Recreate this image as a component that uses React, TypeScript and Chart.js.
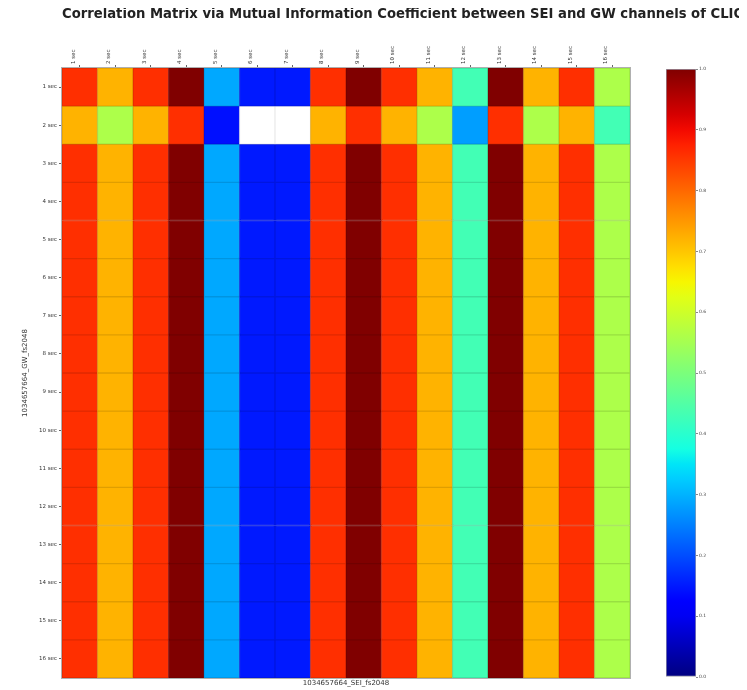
import React, { useEffect, useRef } from "react";
import { Chart, registerables } from "chart.js";

Chart.register(...registerables);

const chartTitle =
  "Correlation Matrix via Mutual Information Coefficient between SEI and GW channels of CLIO";
const xAxisTitle = "1034657664_SEI_fs2048";
const yAxisTitle = "1034657664_GW_fs2048";

const seiChannels = [
  "1 sec", "2 sec", "3 sec", "4 sec", "5 sec", "6 sec", "7 sec", "8 sec",
  "9 sec", "10 sec", "11 sec", "12 sec", "13 sec", "14 sec", "15 sec", "16 sec",
];
const gwChannels = [
  "1 sec", "2 sec", "3 sec", "4 sec", "5 sec", "6 sec", "7 sec", "8 sec",
  "9 sec", "10 sec", "11 sec", "12 sec", "13 sec", "14 sec", "15 sec", "16 sec",
];

// MIC values, one array per GW channel (row), one entry per SEI channel (column). null = NaN (white)
const gw01 = [0.86, 0.72, 0.86, 1.0, 0.29, 0.15, 0.15, 0.86, 1.0, 0.86, 0.72, 0.43, 1.0, 0.72, 0.86, 0.56];
const gw02 = [0.72, 0.56, 0.72, 0.86, 0.14, null, null, 0.72, 0.86, 0.72, 0.56, 0.28, 0.86, 0.56, 0.72, 0.43];
const gw03 = [0.86, 0.72, 0.86, 1.0, 0.29, 0.15, 0.15, 0.86, 1.0, 0.86, 0.72, 0.43, 1.0, 0.72, 0.86, 0.56];
const gw04 = [0.86, 0.72, 0.86, 1.0, 0.29, 0.15, 0.15, 0.86, 1.0, 0.86, 0.72, 0.43, 1.0, 0.72, 0.86, 0.56];
const gw05 = [0.86, 0.72, 0.86, 1.0, 0.29, 0.15, 0.15, 0.86, 1.0, 0.86, 0.72, 0.43, 1.0, 0.72, 0.86, 0.56];
const gw06 = [0.86, 0.72, 0.86, 1.0, 0.29, 0.15, 0.15, 0.86, 1.0, 0.86, 0.72, 0.43, 1.0, 0.72, 0.86, 0.56];
const gw07 = [0.86, 0.72, 0.86, 1.0, 0.29, 0.15, 0.15, 0.86, 1.0, 0.86, 0.72, 0.43, 1.0, 0.72, 0.86, 0.56];
const gw08 = [0.86, 0.72, 0.86, 1.0, 0.29, 0.15, 0.15, 0.86, 1.0, 0.86, 0.72, 0.43, 1.0, 0.72, 0.86, 0.56];
const gw09 = [0.86, 0.72, 0.86, 1.0, 0.29, 0.15, 0.15, 0.86, 1.0, 0.86, 0.72, 0.43, 1.0, 0.72, 0.86, 0.56];
const gw10 = [0.86, 0.72, 0.86, 1.0, 0.29, 0.15, 0.15, 0.86, 1.0, 0.86, 0.72, 0.43, 1.0, 0.72, 0.86, 0.56];
const gw11 = [0.86, 0.72, 0.86, 1.0, 0.29, 0.15, 0.15, 0.86, 1.0, 0.86, 0.72, 0.43, 1.0, 0.72, 0.86, 0.56];
const gw12 = [0.86, 0.72, 0.86, 1.0, 0.29, 0.15, 0.15, 0.86, 1.0, 0.86, 0.72, 0.43, 1.0, 0.72, 0.86, 0.56];
const gw13 = [0.86, 0.72, 0.86, 1.0, 0.29, 0.15, 0.15, 0.86, 1.0, 0.86, 0.72, 0.43, 1.0, 0.72, 0.86, 0.56];
const gw14 = [0.86, 0.72, 0.86, 1.0, 0.29, 0.15, 0.15, 0.86, 1.0, 0.86, 0.72, 0.43, 1.0, 0.72, 0.86, 0.56];
const gw15 = [0.86, 0.72, 0.86, 1.0, 0.29, 0.15, 0.15, 0.86, 1.0, 0.86, 0.72, 0.43, 1.0, 0.72, 0.86, 0.56];
const gw16 = [0.86, 0.72, 0.86, 1.0, 0.29, 0.15, 0.15, 0.86, 1.0, 0.86, 0.72, 0.43, 1.0, 0.72, 0.86, 0.56];

const micRows = [gw01, gw02, gw03, gw04, gw05, gw06, gw07, gw08, gw09, gw10, gw11, gw12, gw13, gw14, gw15, gw16];

const colorbarTicks = [0.0, 0.1, 0.2, 0.3, 0.4, 0.5, 0.6, 0.7, 0.8, 0.9, 1.0];

// matplotlib "jet" colormap segment data
const jetRed = [[0, 0], [0.35, 0], [0.66, 1], [0.89, 1], [1, 0.5]];
const jetGreen = [[0, 0], [0.125, 0], [0.375, 1], [0.64, 1], [0.91, 0], [1, 0]];
const jetBlue = [[0, 0.5], [0.11, 1], [0.34, 1], [0.65, 0], [1, 0]];

function interp(pts: number[][], v: number): number {
  if (v <= pts[0][0]) return pts[0][1];
  for (let i = 1; i < pts.length; i++) {
    if (v <= pts[i][0]) {
      const [x0, y0] = pts[i - 1];
      const [x1, y1] = pts[i];
      return y0 + ((v - x0) / (x1 - x0)) * (y1 - y0);
    }
  }
  return pts[pts.length - 1][1];
}

function jet(v: number, shade = 1): string {
  const c = Math.max(0, Math.min(1, v));
  const r = Math.round(interp(jetRed, c) * 255 * shade);
  const g = Math.round(interp(jetGreen, c) * 255 * shade);
  const b = Math.round(interp(jetBlue, c) * 255 * shade);
  return `rgb(${r},${g},${b})`;
}

const FONT = "'DejaVu Sans', sans-serif";

const framePlugin = {
  id: "frameAndTitle",
  afterDraw(chart: any) {
    const { ctx, chartArea } = chart;
    ctx.save();
    ctx.strokeStyle = "#b0b0b0";
    ctx.lineWidth = 1;
    ctx.strokeRect(chartArea.left - 0.5, chartArea.top - 0.5, chartArea.right - chartArea.left + 1, chartArea.bottom - chartArea.top + 1);
    ctx.fillStyle = "#222";
    ctx.font = `bold 13.2px ${FONT}`;
    ctx.textAlign = "left";
    ctx.textBaseline = "middle";
    ctx.fillText(chartTitle, chartArea.left, 7);
    ctx.restore();
  },
};

export default function App() {
  const mainRef = useRef<HTMLCanvasElement>(null);
  const barRef = useRef<HTMLCanvasElement>(null);

  useEffect(() => {
    if (!mainRef.current || !barRef.current) return;

    const datasets = micRows.map((row, r) => ({
      label: gwChannels[r],
      data: row.map(() => [r, r + 1]),
      backgroundColor: row.map((v) => (v === null ? "#ffffff" : jet(v))),
      borderColor: row.map((v) => (v === null ? "#ececec" : jet(v, 0.88))),
      borderWidth: 1,
      borderSkipped: false,
      grouped: false,
      barPercentage: 1,
      categoryPercentage: 1,
    }));

    const main = new Chart(mainRef.current, {
      type: "bar",
      data: { labels: seiChannels, datasets: datasets as any },
      options: {
        animation: false,
        responsive: false,
        layout: { padding: { left: 0, right: 117, top: 0, bottom: 0 } },
        plugins: { legend: { display: false }, tooltip: { enabled: false }, title: { display: false } },
        scales: {
          x: {
            type: "category",
            position: "top",
            offset: true,
            afterFit: (s: any) => { s.height = 60; },
            grid: { drawOnChartArea: false, offset: false, tickLength: 3, color: "#666" },
            border: { display: false },
            ticks: {
              autoSkip: false,
              minRotation: 90,
              maxRotation: 90,
              padding: 1,
              color: "#333",
              font: { family: FONT, size: 5.5 },
            },
          },
          x2: {
            type: "category",
            labels: seiChannels,
            position: "bottom",
            afterFit: (s: any) => { s.height = 12; },
            grid: { display: false },
            border: { display: false },
            ticks: { display: false },
            title: {
              display: true,
              text: xAxisTitle,
              color: "#333",
              font: { family: FONT, size: 7 },
              padding: { top: 0, bottom: 3 },
            },
          },
          y: {
            type: "linear",
            min: 0,
            max: 16,
            reverse: true,
            afterFit: (s: any) => { s.width = 54; },
            afterBuildTicks: (s: any) => {
              s.ticks = gwChannels.map((_, i) => ({ value: i + 0.5 }));
            },
            grid: { drawOnChartArea: false, tickLength: 3, color: "#666" },
            border: { display: false },
            ticks: {
              autoSkip: false,
              padding: 2,
              color: "#333",
              font: { family: FONT, size: 5.5 },
              callback: (_v: any, i: number) => gwChannels[i],
            },
            title: {
              display: true,
              text: yAxisTitle,
              color: "#333",
              font: { family: FONT, size: 7 },
              padding: { top: 13, bottom: 0 },
            },
          },
        },
      },
      plugins: [framePlugin],
    });

    const colorbar = new Chart(barRef.current, {
      type: "bar",
      data: {
        labels: ["MIC"],
        datasets: [
          {
            data: [[colorbarTicks[0], colorbarTicks[colorbarTicks.length - 1]]],
            backgroundColor: (ctx: any) => {
              const area = ctx.chart.chartArea;
              if (!area) return jet(0.5);
              const g = ctx.chart.ctx.createLinearGradient(0, area.bottom, 0, area.top);
              for (let i = 0; i <= 40; i++) g.addColorStop(i / 40, jet(i / 40));
              return g;
            },
            borderColor: "#9a9aa8",
            borderWidth: 1,
            borderSkipped: false,
            barPercentage: 1,
            categoryPercentage: 1,
          } as any,
        ],
      },
      options: {
        animation: false,
        responsive: false,
        layout: { padding: { left: 0, right: 0, top: 5, bottom: 5 } },
        plugins: { legend: { display: false }, tooltip: { enabled: false } },
        scales: {
          x: { display: false },
          y: {
            type: "linear",
            position: "right",
            min: 0,
            max: 1,
            afterFit: (s: any) => { s.width = 25; },
            afterBuildTicks: (s: any) => {
              s.ticks = colorbarTicks.map((v) => ({ value: v }));
            },
            grid: { drawOnChartArea: false, tickLength: 2, color: "#888" },
            border: { display: false },
            ticks: {
              padding: 1,
              color: "#444",
              font: { family: FONT, size: 4.5 },
              callback: (v: any) => Number(v).toFixed(1),
            },
          },
        },
      },
    });

    return () => {
      main.destroy();
      colorbar.destroy();
    };
  }, []);

  return (
    <div style={{ position: "relative", width: 731, height: 682 }}>
      <canvas ref={mainRef} width={739} height={682} style={{ display: "block" }} />
      <canvas
        ref={barRef}
        width={55}
        height={618}
        style={{ position: "absolute", left: 658, top: 56, display: "block" }}
      />
    </div>
  );
}
